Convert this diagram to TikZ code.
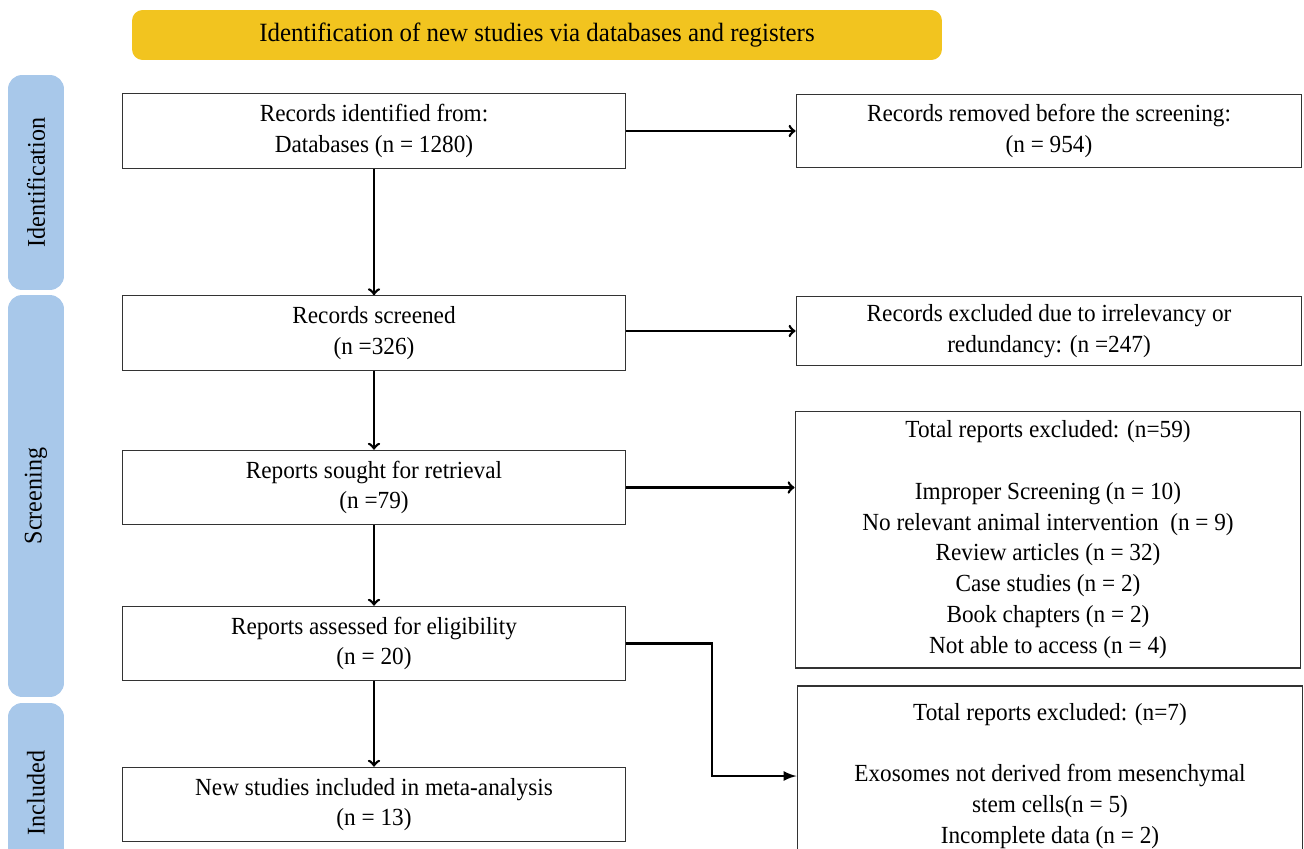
\documentclass[tikz,border=0pt]{standalone}
\usepackage{fontspec}
\setmainfont[FakeStretch=0.945]{Liberation Serif}
\usepackage{xcolor}
\definecolor{banneryellow}{HTML}{F2C41F}
\definecolor{tabblue}{HTML}{A8C8EA}

\begin{document}
\begin{tikzpicture}[x=0.02cm,y=-0.02cm,
  box/.style={draw=black!80,line width=0.6pt,align=center,inner sep=2pt,
    font=\fontsize{14}{17.5}\selectfont},
  lbox/.style={box,minimum width=10.08cm,minimum height=1.49cm},
  rbox/.style={box,minimum width=10.12cm},
  tab/.style={fill=tabblue,rounded corners=8pt,rotate=90,minimum height=1.12cm,
    font=\fontsize{14.5}{17}\selectfont},
  arr/.style={->,line width=1.5pt},
  >=to]
  \clip (0,0) rectangle (1304,848);
  \useasboundingbox (0,0) rectangle (1304,848);
  % banner and side tabs
  \node[fill=banneryellow,rounded corners=6pt,minimum width=16.2cm,minimum height=1cm,
    font=\fontsize{15}{17}\selectfont] (head) at (537,35)
    {Identification of new studies via databases and registers};
  \node[tab,minimum width=4.3cm] (tid) at (36,182.5) {Identification};
  \node[tab,minimum width=8.04cm] (tscr) at (36,496) {Screening};
  \node[tab,minimum width=3.6cm] (tinc) at (36,793) {Included};
  % left column
  \node[lbox] (ident) at (374,131) {Records identified from:\\Databases (n = 1280)};
  \node[lbox] (screen) at (374,333) {Records screened\\(n =326)};
  \node[lbox] (sought) at (374,487.5) {Reports sought for retrieval\\(n =79)};
  \node[lbox] (assess) at (374,643.5) {Reports assessed for eligibility\\(n = 20)};
  \node[lbox] (incl) at (374,804.5) {New studies included in meta-analysis\\(n = 13)};
  % right column
  \node[rbox,minimum height=1.46cm] (removed) at (1049,131)
    {Records removed before the screening:\\(n = 954)};
  \node[rbox,minimum height=1.38cm] (irrel) at (1049,331)
    {Records excluded due to irrelevancy or\\redundancy: (n =247)};
  \node[rbox,minimum height=5.14cm] (excl59) at (1048,539.5)
    {Total reports excluded: (n=59)\\\mbox{}\\Improper Screening (n = 10)\\
     No relevant animal intervention~~(n = 9)\\Review articles (n = 32)\\
     Case studies (n = 2)\\Book chapters (n = 2)\\Not able to access (n = 4)};
  \node[rbox,minimum height=3.6cm] (excl7) at (1050,776)
    {Total reports excluded: (n=7)\\\mbox{}\\Exosomes not derived from mesenchymal\\
     stem cells(n = 5)\\Incomplete data (n = 2)};
  \coordinate (bend) at (712,643.5);
  % connectors
  \draw[arr] (ident) -- (screen);
  \draw[arr] (screen) -- (sought);
  \draw[arr] (sought) -- (assess);
  \draw[arr] (assess) -- (incl);
  \draw[arr] (ident.east) -- (removed.west |- ident.east);
  \draw[arr] (screen.east |- irrel.west) -- (irrel.west);
  \draw[arr] (sought.east) -- (excl59.west |- sought.east);
  \draw[arr,-latex] (assess.east) -- (bend) |- (excl7.west);
\end{tikzpicture}
\end{document}
